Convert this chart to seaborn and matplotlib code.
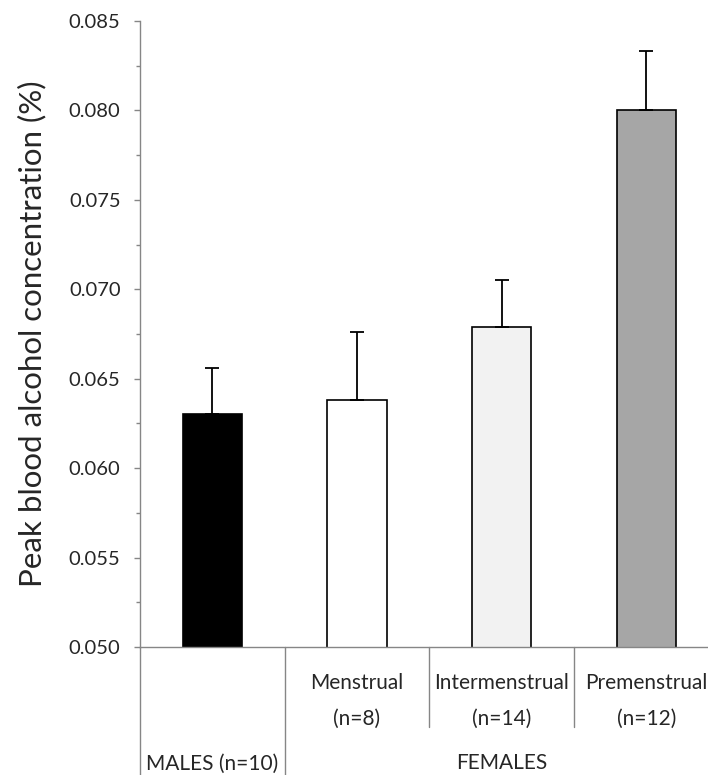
import seaborn as sns
import matplotlib.pyplot as plt
from matplotlib.ticker import MultipleLocator
import matplotlib.transforms as mtransforms

# Data: peak blood alcohol concentration (%), mean and SEM
groups = ['Males', 'Menstrual', 'Intermenstrual', 'Premenstrual']
means = [0.0630, 0.0638, 0.0679, 0.0800]
sems = [0.0026, 0.0038, 0.0026, 0.0033]
bar_colors = ['#000000', '#ffffff', '#f2f2f2', '#a6a6a6']
phase_labels = ['', 'Menstrual', 'Intermenstrual', 'Premenstrual']
n_labels = ['', '(n=8)', '(n=14)', '(n=12)']

sns.set_style('white')
plt.rcParams['font.family'] = ['Lato', 'DejaVu Sans']

fig = plt.figure(figsize=(7.08, 7.75), dpi=100)
ax = fig.add_axes([0.1977, 0.1652, 0.8174, 0.8077])

sns.barplot(x=groups, y=means, hue=groups, palette=bar_colors, legend=False,
            edgecolor='black', linewidth=1.2, width=0.41, ax=ax)
ax.errorbar(range(len(groups)), means, yerr=[[0] * len(sems), sems], fmt='none',
            ecolor='black', elinewidth=1.3, capsize=5, capthick=1.3, zorder=1)

ax.set_ylim(0.050, 0.085)
ax.set_xlim(-0.5, len(groups) - 0.5)
ax.yaxis.set_major_locator(MultipleLocator(0.005))
ax.yaxis.set_minor_locator(MultipleLocator(0.0025))
ax.yaxis.set_major_formatter(lambda v, p: f'{v:.3f}')
ax.tick_params(axis='y', which='major', left=True, length=4, width=1, color='#868686',
               labelsize=14.5, pad=10)
ax.tick_params(axis='y', which='minor', left=True, length=3, width=1, color='#868686')
ax.tick_params(axis='x', bottom=False, labelbottom=False)
ax.set_xlabel('')
ax.set_ylabel('Peak blood alcohol concentration (%)', fontsize=22.5)
ax.yaxis.set_label_coords(-0.162, 0.5)

for side in ['top', 'right']:
    ax.spines[side].set_visible(False)
for side in ['left', 'bottom']:
    ax.spines[side].set_color('#868686')
    ax.spines[side].set_linewidth(1)

# category separators and labels below the axis
trans = mtransforms.blended_transform_factory(ax.transData, ax.transAxes)
for i in range(len(groups) + 1):
    bottom = -0.3 if i <= 1 else -0.128
    ax.plot([i - 0.5, i - 0.5], [0, bottom], transform=trans, color='#868686',
            lw=1, clip_on=False)
for i, (ph, n) in enumerate(zip(phase_labels, n_labels)):
    ax.text(i, -0.0575, ph, transform=trans, ha='center', va='center', fontsize=15)
    ax.text(i, -0.115, n, transform=trans, ha='center', va='center', fontsize=15)
ax.text(0, -0.186, 'MALES (n=10)', transform=trans, ha='center', va='center', fontsize=15)
ax.text(2, -0.186, 'FEMALES', transform=trans, ha='center', va='center', fontsize=15)

fig.savefig('out.png', dpi=100)
